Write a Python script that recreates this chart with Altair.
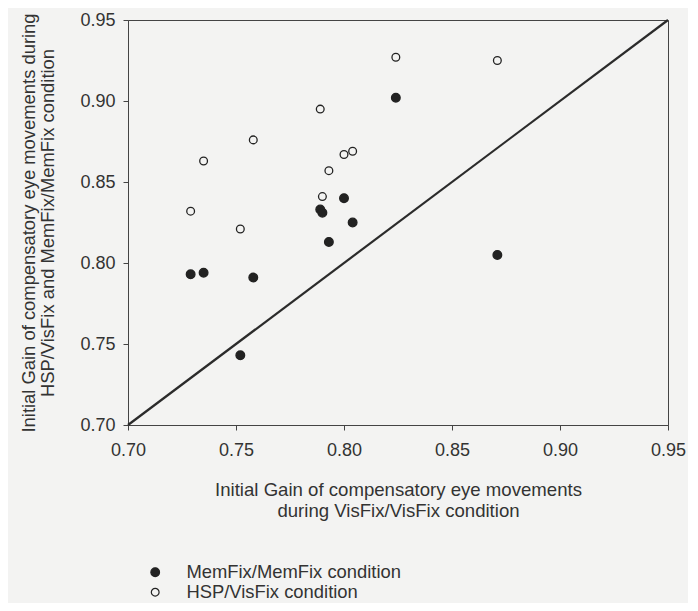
import altair as alt
import pandas as pd

# Data
visfix_x = [0.729, 0.735, 0.758, 0.752, 0.789, 0.790, 0.793, 0.800, 0.804, 0.824, 0.871]
hsp_y = [0.832, 0.863, 0.876, 0.821, 0.895, 0.841, 0.857, 0.867, 0.869, 0.927, 0.925]
mem_x = [0.729, 0.735, 0.758, 0.752, 0.789, 0.790, 0.793, 0.800, 0.804, 0.824, 0.871]
mem_y = [0.793, 0.794, 0.791, 0.743, 0.833, 0.831, 0.813, 0.840, 0.825, 0.902, 0.805]
series_names = ["MemFix/MemFix condition", "HSP/VisFix condition"]
ticks = [0.70, 0.75, 0.80, 0.85, 0.90, 0.95]
diag = [0.70, 0.95]

FONT = "Liberation Sans"
TXT = "#333333"
INK = "#222222"
BG = "#f3f3f2"

rows = []
for x, y in zip(mem_x, mem_y):
    rows.append({"x": x, "y": y, "series": series_names[0]})
for x, y in zip(visfix_x, hsp_y):
    rows.append({"x": x, "y": y, "series": series_names[1]})
df = pd.DataFrame(rows)
diag_df = pd.DataFrame({"x": diag, "y": diag})

xscale = alt.Scale(domain=[0.70, 0.95], nice=False, zero=False)
yscale = alt.Scale(domain=[0.70, 0.95], nice=False, zero=False)

xaxis = alt.Axis(
    values=ticks, format=".2f", grid=False,
    title=["Initial Gain of compensatory eye movements", "during VisFix/VisFix condition"],
    titleFont=FONT, titleFontSize=18.6, titleFontWeight="normal", titleColor=TXT,
    titleLineHeight=21, titlePadding=21,
    labelFont=FONT, labelFontSize=18, labelColor=TXT, labelPadding=11,
    tickSize=5, tickColor="#444", domainColor="#444", labelFlush=False,
)
yaxis = alt.Axis(
    values=ticks, format=".2f", grid=False,
    title=["Initial Gain of compensatory eye movements during", "HSP/VisFix and MemFix/MemFix condition"],
    titleFont=FONT, titleFontSize=18.4, titleFontWeight="normal", titleColor=TXT,
    titleLineHeight=19, titlePadding=22,
    labelFont=FONT, labelFontSize=18, labelColor=TXT, labelPadding=8,
    tickSize=5, tickColor="#444", domainColor="#444", labelFlush=False,
)

line = alt.Chart(diag_df).mark_line(color="#2b2b2b", strokeWidth=2.2).encode(
    x=alt.X("x:Q", scale=xscale, axis=xaxis),
    y=alt.Y("y:Q", scale=yscale, axis=yaxis),
)

points = alt.Chart(df).mark_point(
    filled=True, stroke=INK, strokeWidth=1.3, opacity=1, shape="circle"
).encode(
    x=alt.X("x:Q", scale=xscale),
    y=alt.Y("y:Q", scale=yscale),
    fill=alt.Fill(
        "series:N",
        scale=alt.Scale(domain=series_names, range=[INK, BG]),
        legend=alt.Legend(
            orient="none", legendX=18, legendY=543, title=None,
            labelFont=FONT, labelFontSize=18.4, labelColor=TXT, labelLimit=0,
            labelOffset=22, rowPadding=1, padding=0,
            symbolStrokeColor=INK, symbolStrokeWidth=1.2, symbolType="circle",
        ),
    ),
    size=alt.Size(
        "series:N",
        scale=alt.Scale(domain=series_names, range=[75, 60]),
    ),
)

chart = alt.layer(line, points).properties(
    width=540, height=405,
    background=BG,
    padding={"left": 120, "top": 12, "right": 20, "bottom": 178},
    autosize=alt.AutoSizeParams(type="none"),
).configure_view(stroke="#444", strokeWidth=1)

chart.save("out.html", embed_options={"renderer": "svg", "actions": False})
